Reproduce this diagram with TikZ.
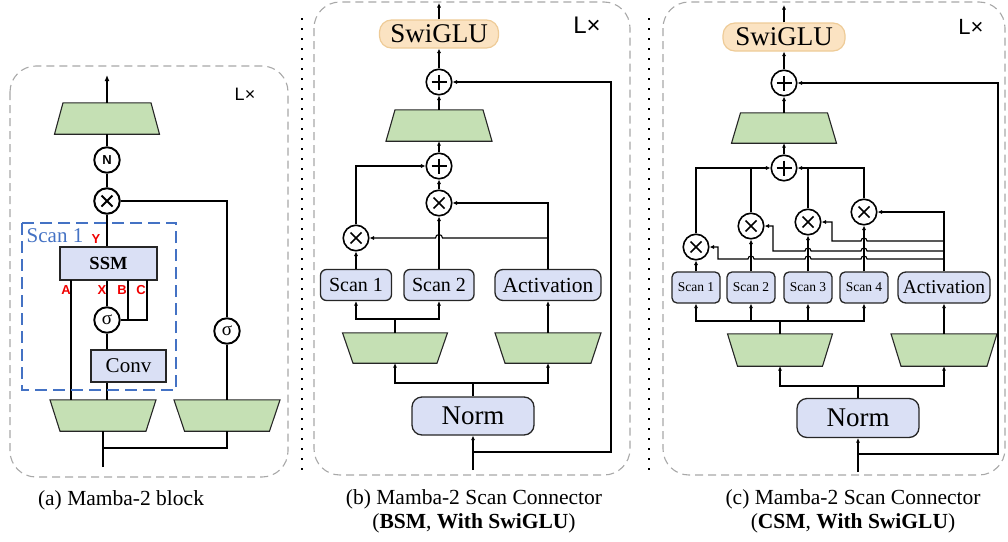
\documentclass[tikz,border=0pt]{standalone}
\usepackage{fontspec}
\setmainfont{Liberation Serif}
\newfontfamily\sansf{Liberation Sans}
\usetikzlibrary{arrows.meta,calc}
\definecolor{trapg}{HTML}{C5E0B4}
\definecolor{boxb}{HTML}{DAE0F5}
\definecolor{swif}{HTML}{FBE3C2}
\definecolor{swid}{HTML}{EECB97}
\definecolor{outg}{HTML}{A8A8A8}
\definecolor{blued}{HTML}{4472C4}
\definecolor{redl}{HTML}{F00000}
\newcommand\trapz[6]{%
  \node[inner sep=0pt, minimum width={max(#4,#5)}, minimum height=#6] (#1) at (#2,#3) {};
  \draw[trapdraw] ($(#1.north)+(-#4/2,0)$) -- ($(#1.north)+(#4/2,0)$) -- ($(#1.south)+(#5/2,0)$) -- ($(#1.south)+(-#5/2,0)$) -- cycle;}
\begin{document}
\begin{tikzpicture}[x=1pt,y=-1pt,
  trapdraw/.style={fill=trapg, draw=black!85, line width=1.1pt, line join=miter},
  outerbox/.style={draw=outg, line width=1.1pt, dash pattern=on 8pt off 5pt, rounded corners=26pt},
  bluebox/.style={draw=blued, line width=2.6pt, dash pattern=on 12pt off 6pt},
  dotsep/.style={draw=black, line width=2pt, dash pattern=on 2pt off 8pt},
  lx/.style={inner sep=0pt, font=\sansf\fontsize{#1}{#1}\selectfont},
  opc/.style={circle, draw=black, fill=white, line width=#1, minimum size=25.5pt, inner sep=0pt},
  plusop/.style={opc=1.6pt, path picture={\draw[line width=1.6pt] ($(path picture bounding box.center)+(-7.5,0)$) -- ++(15,0) ($(path picture bounding box.center)+(0,-7.5)$) -- ++(0,15);}},
  timesop/.style={opc=#1, path picture={\draw[line width=#1] ($(path picture bounding box.center)+(-5.5,-5.5)$) -- ++(11,11) ($(path picture bounding box.center)+(-5.5,5.5)$) -- ++(11,-11);}},
  boxa/.style={draw=black!85, fill=boxb, line width=1.4pt, inner sep=0pt},
  boxr/.style={draw=black!85, fill=boxb, line width=1.3pt, inner sep=0pt, rounded corners=#1},
  swibox/.style={draw=swid, fill=swif, line width=1.2pt, rounded corners=12pt, inner sep=0pt, font=\fontsize{27}{27}\selectfont},
  redlab/.style={text=redl, font=\sansf\bfseries\fontsize{13}{13}\selectfont, inner sep=0pt},
  conna/.style={draw=black, line width=1.6pt},
  conn/.style={draw=black, line width=1.1pt},
  arr/.style={conn, -{Latex[length=4.5pt,width=4.2pt]}},
  captxt/.style={font=\fontsize{21.5}{24}\selectfont, inner sep=0pt, align=center}
]
\useasboundingbox (0,0) rectangle (1008,541);

% ================= panel (a) =================
\draw[outerbox] (10,66) rectangle (288,477);
\node[lx=18] (lxa) at (245,94) {L×};
\trapz{ta3}{107}{118.5}{88}{105}{31}
\trapz{ta1}{103}{415.5}{106}{86}{31}
\trapz{ta2}{227}{415.5}{106}{85}{31}
\node[opc=1.9pt] (na) at (107,160) {\sansf\bfseries\fontsize{13}{13}\selectfont N};
\node[timesop=2pt] (xa) at (107,201) {};
\node[opc=1.9pt] (sga) at (107,320) {\fontsize{19}{19}\selectfont σ};
\node[opc=1.9pt] (sgr) at (227,331) {\fontsize{19}{19}\selectfont σ};
\node[boxa, minimum width=97pt, minimum height=33pt, font=\bfseries\fontsize{18.5}{18.5}\selectfont] (ssm) at (108.5,263.5) {SSM};
\node[boxa, minimum width=75pt, minimum height=32pt, font=\fontsize{21}{21}\selectfont] (conv) at (128.5,366) {Conv};
\node[text=blued, font=\fontsize{21}{21}\selectfont, inner sep=0pt] (scanlbl) at (55,236) {Scan 1};
\node[redlab] (ly) at (96,239) {Y};
\node[redlab] (la) at (66,290) {A};
\node[redlab] (lxx) at (102,290) {X};
\node[redlab] (lb) at (122,290) {B};
\node[redlab] (lc) at (141,290) {C};
\coordinate (outa) at (107,75);
\coordinate (ax) at (71,280);
\coordinate (bx) at (128,280);
\coordinate (cx) at (147,280);
\coordinate (ina) at (103,467);
\coordinate (jna) at (103,448);
\draw[conna, -{Latex[length=6pt,width=5pt]}] (ta3.north) -- (outa);
\draw[conna] (na) -- (ta3.south);
\draw[conna] (xa) -- (na);
\draw[conna] (ssm.north -| xa) -- (xa);
\draw[conna] (xa) -| (sgr);
\draw[conna] (sgr) -- (sgr |- ta2.north);
\draw[conna] (ax) -- (ax |- ta1.north);
\draw[conna] (sga) -- (sga |- ssm.south);
\draw[conna] (sga) -- (sga |- conv.north);
\draw[conna] (conv.south -| sga) -- (sga |- ta1.north);
\draw[conna] (sga.east) -| (cx);
\draw[conna] (bx) -- (bx |- sga.east);
\draw[conna] (ina) -- (ta1.south);
\draw[conna] (jna) -| (ta2.south);
\draw[bluebox] (22,223) rectangle (176,390);

% separators
\draw[dotsep] (302,18) -- (302,470);
\draw[dotsep] (649,18) -- (649,470);

% ================= panel (b) =================
\draw[outerbox] (314,2) rectangle (630,475);
\node[lx=24] (lxb) at (587,25) {L×};
\node[swibox, minimum width=119pt, minimum height=28pt] (swb) at (439,34) {SwiGLU};
\node[plusop] (pb1) at (439,82) {};
\trapz{ttb}{439}{125.5}{88}{106}{31}
\node[plusop] (pb2) at (439,166) {};
\node[timesop=1.6pt] (tb2) at (439,203) {};
\node[timesop=1.6pt] (tb1) at (356,238) {};
\node[boxr=6pt, minimum width=71pt, minimum height=31pt, font=\fontsize{20}{20}\selectfont] (sb1) at (356,285) {Scan 1};
\node[boxr=6pt, minimum width=70pt, minimum height=31pt, font=\fontsize{20}{20}\selectfont] (sb2) at (439,285) {Scan 2};
\node[boxr=8pt, minimum width=106pt, minimum height=31pt, font=\fontsize{21.5}{21.5}\selectfont] (actb) at (548,285) {Activation};
\trapz{tbl}{395}{348}{105}{84}{30}
\trapz{tbr}{548}{348}{106}{86}{30}
\node[boxr=10pt, minimum width=122pt, minimum height=38pt, font=\fontsize{27}{27}\selectfont] (normb) at (473,416) {Norm};
\coordinate (outb) at (439,3);
\coordinate (inb) at (473,470);
\coordinate (jib) at (473,452);
\coordinate (fbb) at (611,452);
\coordinate (jnb) at (473,383);
\coordinate (ksb) at (395,319);
\coordinate (jab) at (548,238);
\draw[arr] (swb) -- (outb);
\draw[arr] (pb1) -- (swb);
\draw[arr] (ttb.north) -- (pb1);
\draw[arr] (pb2) -- (ttb.south);
\draw[arr] (tb2) -- (pb2);
\draw[arr] (tb1) |- (pb2);
\draw[arr] (sb1) -- (tb1);
\draw[arr] (sb2) -- (tb2);
\draw[arr] (actb) |- (tb2);
\draw[arr] (jab) -- (442.5,238) arc (0:-180:3.5) -- (tb1);
\draw[arr] (tbr.north) -- (actb);
\draw[conn] (tbl.north) -- (ksb);
\draw[arr] (ksb) -| (sb1.south);
\draw[arr] (ksb) -| (sb2.south);
\draw[conn] (normb) -- (jnb);
\draw[arr] (jnb) -| (tbl.south);
\draw[arr] (jnb) -| (tbr.south);
\draw[arr] (inb) -- (normb);
\draw[arr] (jib) -- (fbb) |- (pb1);

% ================= panel (c) =================
\draw[outerbox] (663,2) rectangle (1005,475);
\node[lx=22] (lxc) at (971,27) {L×};
\node[swibox, minimum width=122pt, minimum height=28pt] (swc) at (784,37) {SwiGLU};
\node[plusop] (pc1) at (784,83) {};
\trapz{ttc}{784}{128}{87}{105}{30}
\node[plusop] (pc2) at (784,168) {};
\node[timesop=1.6pt] (tc1) at (696,247) {};
\node[timesop=1.6pt] (tc2) at (751,226) {};
\node[timesop=1.6pt] (tc3) at (808,222) {};
\node[timesop=1.6pt] (tc4) at (864,212) {};
\node[boxr=5pt, minimum width=48pt, minimum height=31pt, font=\fontsize{13.5}{13.5}\selectfont] (sc1) at (696,287.5) {Scan 1};
\node[boxr=5pt, minimum width=48pt, minimum height=31pt, font=\fontsize{13.5}{13.5}\selectfont] (sc2) at (751,287.5) {Scan 2};
\node[boxr=5pt, minimum width=48pt, minimum height=31pt, font=\fontsize{13.5}{13.5}\selectfont] (sc3) at (808,287.5) {Scan 3};
\node[boxr=5pt, minimum width=48pt, minimum height=31pt, font=\fontsize{13.5}{13.5}\selectfont] (sc4) at (864,287.5) {Scan 4};
\node[boxr=8pt, minimum width=92pt, minimum height=31pt, font=\fontsize{19.5}{19.5}\selectfont] (actc) at (944,287.5) {Activation};
\trapz{tcl}{780}{350}{105}{85}{32}
\trapz{tcr}{944}{350}{106}{86}{32}
\node[boxr=10pt, minimum width=122pt, minimum height=39pt, font=\fontsize{27}{27}\selectfont] (normc) at (858,418) {Norm};
\coordinate (outc) at (784,5);
\coordinate (inc) at (858,472);
\coordinate (jic) at (858,454);
\coordinate (fbc) at (998,454);
\coordinate (jnc) at (858,386);
\coordinate (ksc) at (780,321);
\coordinate (ja3) at (944,241);
\coordinate (ja2) at (944,251);
\coordinate (ja1) at (944,259);
\draw[arr] (swc) -- (outc);
\draw[arr] (pc1) -- (swc);
\draw[arr] (ttc.north) -- (pc1);
\draw[arr] (pc2) -- (ttc.south);
\draw[arr] (tc1) |- (pc2);
\draw[conn] (tc2) -- (tc2 |- pc2);
\draw[arr] (tc4) |- (pc2);
\draw[conn] (tc3) -- (tc3 |- pc2);
\draw[arr] (sc1) -- (tc1);
\draw[arr] (sc2) -- (tc2);
\draw[arr] (sc3) -- (tc3);
\draw[arr] (sc4) -- (tc4);
\draw[arr] (actc) |- (tc4);
\draw[arr] (ja3) -- (867,241) arc (0:-180:3) -- (832,241) |- (tc3);
\draw[arr] (ja2) -- (867,251) arc (0:-180:3) -- (811,251) arc (0:-180:3) -- (773,251) |- (tc2);
\draw[arr] (ja1) -- (867,259) arc (0:-180:3) -- (811,259) arc (0:-180:3) -- (754,259) arc (0:-180:3) -- (718,259) |- (tc1);
\draw[arr] (tcr.north) -- (actc);
\draw[conn] (tcl.north) -- (ksc);
\draw[arr] (ksc) -| (sc1.south);
\draw[arr] (ksc) -| (sc2.south);
\draw[arr] (ksc) -| (sc3.south);
\draw[arr] (ksc) -| (sc4.south);
\draw[conn] (normc) -- (jnc);
\draw[arr] (jnc) -| (tcl.south);
\draw[arr] (jnc) -| (tcr.south);
\draw[arr] (inc) -- (normc);
\draw[arr] (jic) -- (fbc) |- (pc1);

% captions
\node[captxt] (capa) at (121,500) {(a) Mamba-2 block};
\node[captxt] (capb) at (474,511) {(b) Mamba-2 Scan Connector\\(\textbf{BSM}, \textbf{With SwiGLU})};
\node[captxt] (capc) at (853,511) {(c) Mamba-2 Scan Connector\\(\textbf{CSM}, \textbf{With SwiGLU})};
\end{tikzpicture}
\end{document}
